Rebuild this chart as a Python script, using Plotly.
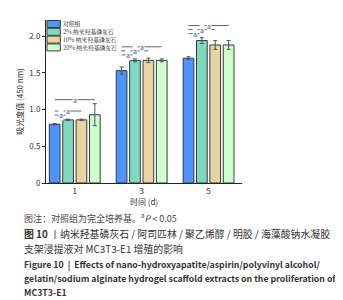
import plotly.graph_objects as go

days = ["1", "3", "5"]
groups = ["对照组", "2% 纳米羟基磷灰石", "10% 纳米羟基磷灰石", "20% 纳米羟基磷灰石"]
values = [
    [0.80, 1.53, 1.70],
    [0.86, 1.67, 1.94],
    [0.86, 1.67, 1.88],
    [0.93, 1.67, 1.88],
]
errors = [
    [0.01, 0.05, 0.02],
    [0.01, 0.02, 0.04],
    [0.01, 0.03, 0.06],
    [0.15, 0.02, 0.06],
]
colors = ["#4d94ff", "#7dd9c0", "#e8d4a0", "#ccffcc"]
# significance comparisons within each day (bar index pairs)
comparisons = [(0, 1), (0, 2), (0, 3)]
sig_label = "a"

y_ticks = [0, 0.5, 1.0, 1.5, 2.0]
y_tick_text = ["0", "0.5", "1.0", "1.5", "2.0"]

W, H = 343, 300
L, R, T, B = 29, 109, 12, 125
pw, ph = W - L - R, H - T - B

def px_to_paper(xpx, ypx):
    return (xpx - L) / pw, 1 - (ypx - T) / ph

bargap = 0.2
n = len(groups)
slot = (1 - bargap) / n

fig = go.Figure()
xs = list(range(len(days)))
for i, g in enumerate(groups):
    fig.add_trace(go.Bar(
        x=xs, y=values[i], name=g, showlegend=False,
        marker=dict(color=colors[i], line=dict(color="#3a3a3a", width=1)),
        error_y=dict(type="data", array=errors[i], color="#555", thickness=1, width=2),
    ))

shapes = []
annotations = []
for d in xs:
    prev = 0
    for (a, b) in comparisons:
        xa = d - (1 - bargap) / 2 + (a + 0.5) * slot
        xb = d - (1 - bargap) / 2 + (b + 0.5) * slot
        top = max(values[k][d] + errors[k][d] for k in range(a, b + 1))
        yb = max(top, prev) + 0.055
        prev = yb
        shapes.append(dict(type="line", xref="x", yref="y", x0=xa, x1=xb, y0=yb, y1=yb,
                           line=dict(color="#666", width=1)))
        annotations.append(dict(x=(xa + xb) / 2, y=yb, xref="x", yref="y", text=sig_label,
                                showarrow=False, font=dict(size=7, color="#2f5aa8"),
                                bgcolor="white", borderpad=0))

# manual legend (compact, like reference)
leg_font = "Noto Serif CJK SC, Noto Sans CJK SC, serif"
for i, g in enumerate(groups):
    ycen = 16 + i * 7.8
    x0, y0 = px_to_paper(30, ycen - 3.5)
    x1, y1 = px_to_paper(44, ycen + 3.5)
    shapes.append(dict(type="rect", xref="paper", yref="paper", x0=x0, x1=x1, y0=y1, y1=y0,
                       fillcolor=colors[i], line=dict(color="#3a3a3a", width=1)))
    tx, ty = px_to_paper(45, ycen)
    annotations.append(dict(x=tx, y=ty, xref="paper", yref="paper", xanchor="left",
                            yanchor="middle", text=g, showarrow=False,
                            font=dict(size=5.8, family=leg_font, color="#222")))

caption_font = "Noto Sans CJK SC"
captions = [
    ("图注：对照组为完全培养基。<sup>a</sup><i>P</i> < 0.05", 210, 9, "#444"),
    ("<b>图 10 </b>丨纳米羟基磷灰石 / 阿司匹林 / 聚乙烯醇 / 明胶 / 海藻酸钠水凝胶", 226, 9.9, "#333"),
    ("支架浸提液对 MC3T3-E1 增殖的影响", 241, 9.9, "#333"),
    ("<b>Figure 10  |  Effects of nano-hydroxyapatite/aspirin/polyvinyl alcohol/</b>", 256, 8.75, "#333"),
    ("<b>gelatin/sodium alginate hydrogel scaffold extracts on the proliferation of</b>", 270, 8.75, "#333"),
    ("<b>MC3T3-E1</b>", 284, 8.75, "#333"),
]
for text, ypx, size, col in captions:
    cx, cy = px_to_paper(4, ypx)
    annotations.append(dict(x=cx, y=cy, xref="paper", yref="paper",
                            xanchor="left", yanchor="middle", text=text, showarrow=False,
                            font=dict(size=size, color=col, family=caption_font)))

fig.update_layout(
    width=W, height=H,
    margin=dict(l=L, r=R, t=T, b=B),
    barmode="group", bargap=bargap, bargroupgap=0.2,
    plot_bgcolor="white", paper_bgcolor="white",
    font=dict(family="Noto Sans CJK SC", size=8, color="#333"),
    showlegend=False,
    shapes=shapes, annotations=annotations,
    xaxis=dict(range=[-0.43, 2.5], tickvals=xs, ticktext=days, showline=True,
               linecolor="#222", linewidth=1, ticks="", ticklen=3,
               title=dict(text="时间 (d)", font=dict(size=8), standoff=4), showgrid=False,
               zeroline=False),
    yaxis=dict(range=[0, 2.22], tickvals=y_ticks, ticktext=y_tick_text, showline=True,
               linecolor="#222", linewidth=1, ticks="outside", ticklen=3, tickcolor="#222",
               title=dict(text="吸光度值 (450 nm)", font=dict(size=8), standoff=4),
               showgrid=False, zeroline=False),
)

fig.write_html("out.html")
